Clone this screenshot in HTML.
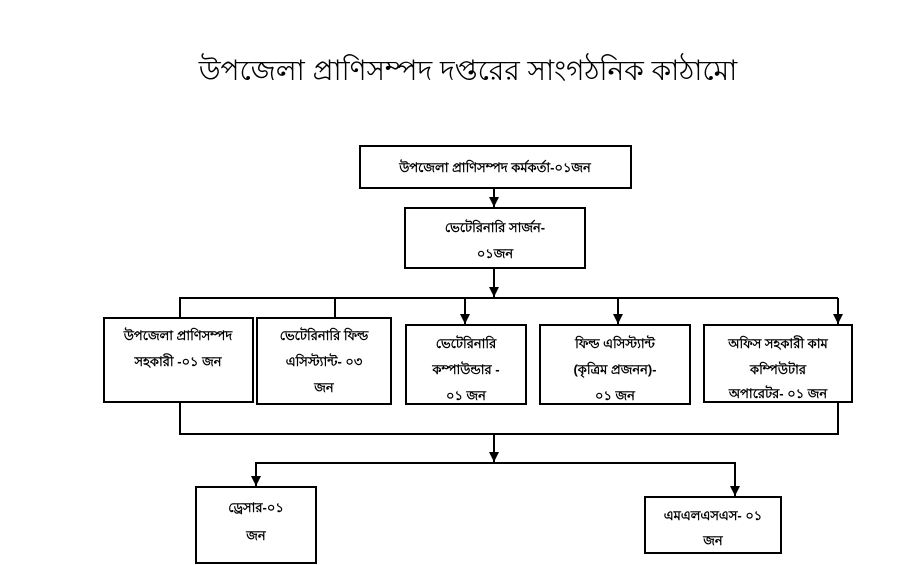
<!DOCTYPE html>
<html><head><meta charset="utf-8"><style>
html,body{margin:0;padding:0;background:#fff;}
svg{display:block;}
text{font-family:"Liberation Sans","DejaVu Sans",sans-serif;fill:#000;font-weight:bold;}
</style></head><body>
<svg width="900" height="565" viewBox="0 0 900 565" xmlns="http://www.w3.org/2000/svg">
<defs><marker id="a" markerWidth="10" markerHeight="10" refX="10" refY="5" orient="auto" markerUnits="userSpaceOnUse"><path d="M0,0 L10,5 L0,10 Z" fill="#000"/></marker></defs>
<text x="468" y="80" font-size="28" text-anchor="middle" style="font-weight:normal">উপজেলা প্রাণিসম্পদ দপ্তরের সাংগঠনিক কাঠামো</text>
<g fill="none" stroke="#000" stroke-width="2">
<rect x="360" y="146" width="271" height="42"/>
<rect x="405" y="208" width="180" height="60"/>
<rect x="104" y="318" width="149" height="84"/>
<rect x="257" y="318" width="134" height="86"/>
<rect x="406" y="325" width="120" height="79"/>
<rect x="540" y="325" width="150" height="79"/>
<rect x="704" y="325" width="148" height="77"/>
<rect x="196" y="487" width="120" height="76"/>
<rect x="645" y="497" width="136" height="56"/>
<line x1="494" y1="188" x2="494" y2="207" marker-end="url(#a)"/>
<line x1="494" y1="268" x2="494" y2="297" marker-end="url(#a)"/>
<polyline points="180,318 180,298 838,298"/>
<line x1="335" y1="298" x2="335" y2="318"/>
<line x1="465" y1="298" x2="465" y2="324" marker-end="url(#a)"/>
<line x1="618" y1="298" x2="618" y2="324" marker-end="url(#a)"/>
<line x1="838" y1="298" x2="838" y2="324" marker-end="url(#a)"/>
<polyline points="180,402 180,434 838,434 838,402"/>
<line x1="494" y1="434" x2="494" y2="462" marker-end="url(#a)"/>
<polyline points="256,470 256,463 735,463 735,470"/>
<line x1="256" y1="466" x2="256" y2="486" marker-end="url(#a)"/>
<line x1="735" y1="466" x2="735" y2="496" marker-end="url(#a)"/>
</g>
<g font-size="13" text-anchor="middle">
<text x="495" y="172">উপজেলা প্রাণিসম্পদ কর্মকর্তা-০১জন</text>
<text x="495" y="232">ভেটেরিনারি সার্জন-</text>
<text x="495" y="258">০১জন</text>
<text x="178" y="340">উপজেলা প্রাণিসম্পদ</text>
<text x="178" y="366">সহকারী -০১ জন</text>
<text x="324" y="340">ভেটেরিনারি ফিল্ড</text>
<text x="324" y="366">এসিস্ট্যান্ট- ০৩</text>
<text x="324" y="392">জন</text>
<text x="466" y="348">ভেটেরিনারি</text>
<text x="466" y="374">কম্পাউন্ডার -</text>
<text x="466" y="400">০১ জন</text>
<text x="615" y="348">ফিল্ড এসিস্ট্যান্ট</text>
<text x="615" y="374">(কৃত্রিম প্রজনন)-</text>
<text x="615" y="400">০১ জন</text>
<text x="778" y="348">অফিস সহকারী কাম</text>
<text x="778" y="374">কম্পিউটার</text>
<text x="778" y="398">অপারেটর- ০১ জন</text>
<text x="256" y="512">ড্রেসার-০১</text>
<text x="256" y="540">জন</text>
<text x="713" y="520">এমএলএসএস- ০১</text>
<text x="713" y="545">জন</text>
</g>
</svg>
</body></html>
